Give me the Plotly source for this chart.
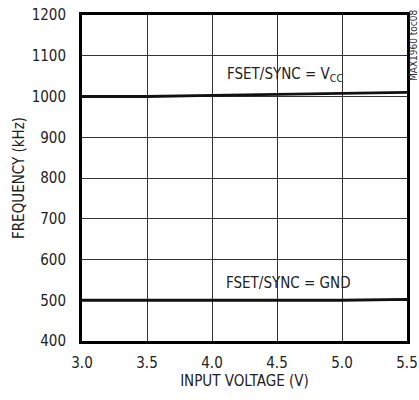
import plotly.graph_objects as go

voltage = [3.0, 3.5, 4.0, 4.5, 5.0, 5.5]
freq_vcc = [1000, 1000, 1003, 1005, 1007, 1010]
freq_gnd = [500, 500, 500, 500, 500, 502]
x_ticks = [3.0, 3.5, 4.0, 4.5, 5.0, 5.5]
y_ticks = [400, 500, 600, 700, 800, 900, 1000, 1100, 1200]

FONT = "DejaVu Sans Condensed, Liberation Sans Narrow, Roboto, sans-serif"

fig = go.Figure()
fig.add_trace(go.Scatter(x=voltage, y=freq_vcc, mode="lines",
                         line=dict(color="#111111", width=2.8), showlegend=False))
fig.add_trace(go.Scatter(x=voltage, y=freq_gnd, mode="lines",
                         line=dict(color="#111111", width=2.8), showlegend=False))

fig.update_layout(
    width=419, height=400,
    margin=dict(l=82, r=12, t=15, b=59, autoexpand=False),
    paper_bgcolor="white", plot_bgcolor="white",
    font=dict(family=FONT, size=14, color="#222222"),
    xaxis=dict(range=[3.0, 5.5], tickvals=x_ticks,
               ticktext=[f"{v:.1f}" for v in x_ticks],
               showgrid=True, gridcolor="#333333", gridwidth=1,
               showline=True, linecolor="black", linewidth=3, mirror=True,
               zeroline=False, ticks="", ticklabelstandoff=6, automargin=False,
               tickfont=dict(size=15),
               title=dict(text="INPUT VOLTAGE (V)", font=dict(size=15), standoff=0)),
    yaxis=dict(range=[400, 1200], tickvals=y_ticks,
               showgrid=True, gridcolor="#333333", gridwidth=1,
               showline=True, linecolor="black", linewidth=3, mirror=True,
               zeroline=False, ticks="", ticklabelstandoff=10, automargin=False,
               tickfont=dict(size=15),
               title=dict(text="FREQUENCY (kHz)", font=dict(size=15), standoff=4)),
    annotations=[
        dict(x=4.56, y=1055, xref="x", yref="y",
             text="FSET/SYNC = V<sub>CC</sub>", showarrow=False,
             font=dict(size=15, color="#222222"), xanchor="center", yanchor="middle"),
        dict(x=4.59, y=542, xref="x", yref="y",
             text="FSET/SYNC = GND", showarrow=False,
             font=dict(size=15, color="#222222"), xanchor="center", yanchor="middle"),
        dict(x=1.0, y=1.0, xref="paper", yref="paper", xshift=6, yshift=8,
             text="MAX1960 toc08", showarrow=False, textangle=-90,
             font=dict(size=10, color="#333333"), xanchor="center", yanchor="top"),
    ],
)

fig.write_html("out.html", config={"displayModeBar": False},
               post_script="document.body.style.margin='0';document.body.style.overflow='hidden';")
